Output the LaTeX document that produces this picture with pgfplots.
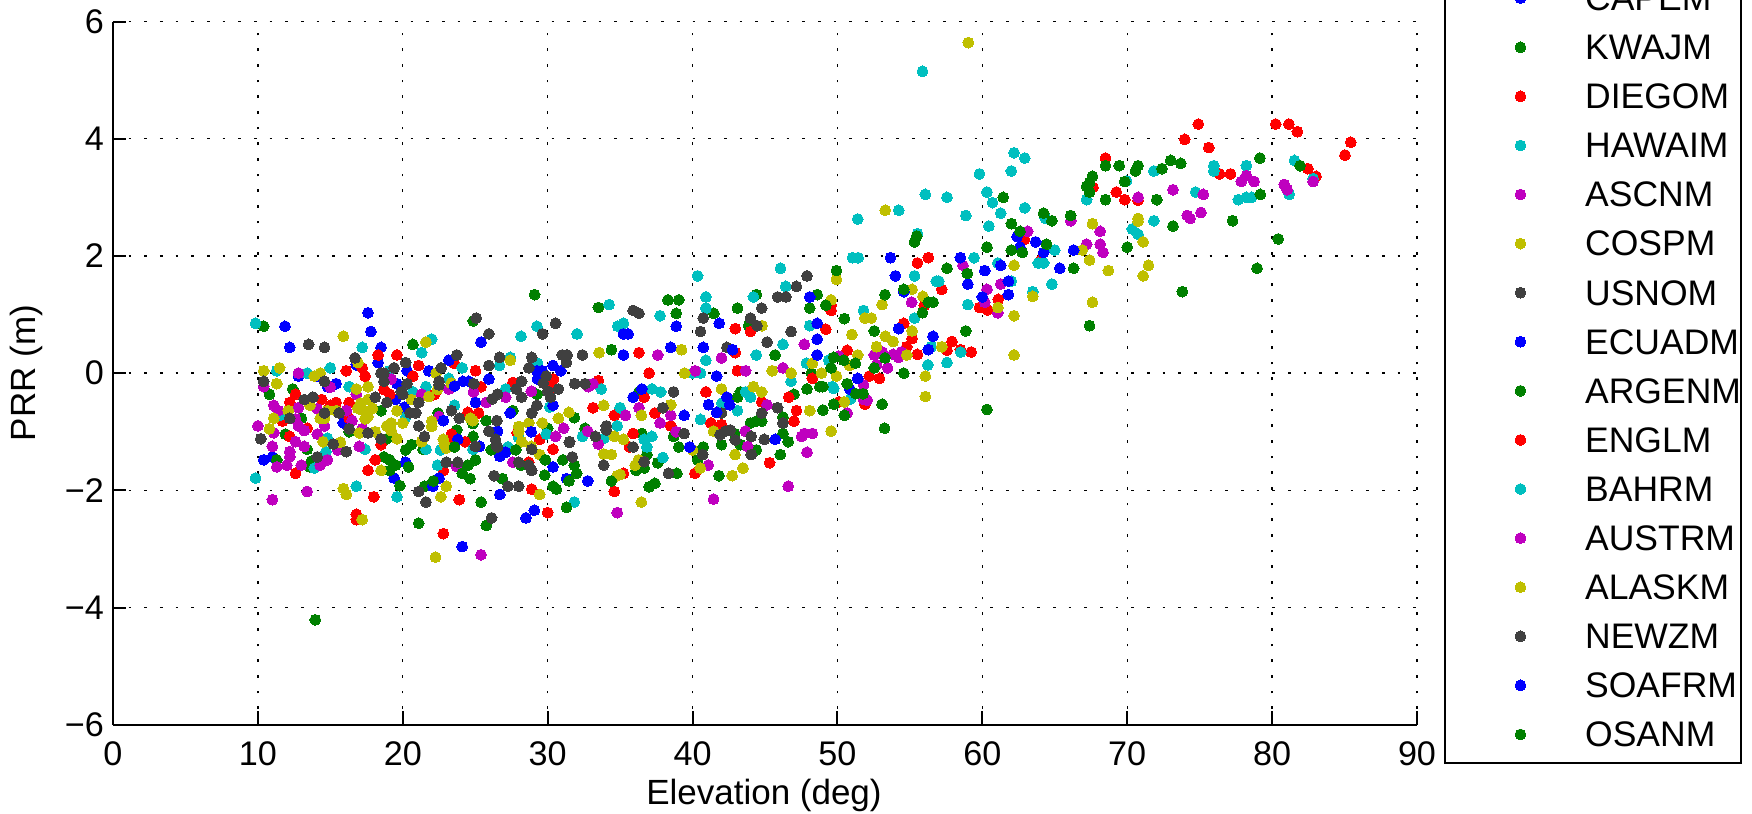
\documentclass[border=0pt]{standalone}
\usepackage{fontspec}
\setmainfont{Liberation Sans}
\usepackage{pgfplots}
\pgfplotsset{compat=1.18}
\definecolor{cB}{RGB}{0,0,255}
\definecolor{cG}{RGB}{0,128,0}
\definecolor{cR}{RGB}{255,0,0}
\definecolor{cC}{RGB}{0,191,191}
\definecolor{cM}{RGB}{191,0,191}
\definecolor{cY}{RGB}{191,191,0}
\definecolor{cK}{RGB}{64,64,64}
\pgfplotsset{
  st/.style={only marks,mark=*,mark size=3.25pt,color=#1,mark options={draw=#1,fill=#1,line width=0pt,solid}},
}
\begin{document}
\begin{tikzpicture}
\clip[use as bounding box] (-67.8pt,-52.98pt) rectangle (983.4pt,434.82pt);
\begin{axis}[
  scale only axis,width=782.4pt,height=421.9pt,
  xmin=0,xmax=90,ymin=-6,ymax=6,
  xtick={0,10,20,30,40,50,60,70,80,90},
  xticklabels={0,10,20,30,40,50,60,70,80,90},
  ytick={-6,-4,-2,0,2,4,6},
  yticklabels={−6,−4,−2,0,2,4,6},
  axis x line*=bottom,axis y line*=left,
  axis line style={black,line width=1.2pt},
  tick align=inside,major tick length=8pt,
  tick style={black,line width=1.2pt},
  xmajorgrids,ymajorgrids,
  grid style={black,line width=0.8pt,dash pattern=on 1.6pt off 7.8pt},
  tick label style={font=\fontsize{20.5}{24}\selectfont},
  xticklabel style={yshift=-6.5pt},
  yticklabel style={xshift=-2pt},
  label style={font=\fontsize{21}{25}\selectfont},
  xlabel={Elevation (deg)},ylabel={PRR (m)},
  xlabel style={at={(axis description cs:0.4992,-0.1)},anchor=center},
  ylabel style={at={(axis description cs:-0.0665,0.5)},anchor=center},
  legend cell align=left,
  legend image code/.code={\path (-44.85pt,0pt) (36pt,0pt);\draw[#1] plot coordinates {(0pt,0pt)};},
  legend style={at={(axis description cs:1.0205,-0.0563)},anchor=south west,
    draw=black,line width=1.2pt,inner xsep=0pt,inner ysep=2.6pt,
    font=\fontsize{21.3}{25}\selectfont,column sep=2.2pt,row sep=0pt,
    nodes={inner sep=0pt,minimum height=29.45pt,text depth=0pt}},
]
\addplot[st=cB] coordinates {(11.87,.80)(17.6,1.03)(17.8,.71)(12.2,.44)(18.5,.44)(18.3,.18)(12.8,-.05)(14.1,-.05)(15.4,-.18)(14.8,-.23)(16.8,.14)(20.3,.04)(21.8,.04)(19.6,-.18)(19.5,-.45)(20.1,-.58)(15.9,-.85)(10.4,-1.48)(11,-1.43)(20.2,-1.52)(19.4,-1.79)};
\addlegendentry{CAPEM}
\addplot[st=cG] coordinates {(10.4,.80)(20.7,.49)(10.8,-.36)(12.4,-.27)(18.5,-.64)(13,-.77)(16.3,-1)(11.9,-1.04)(18.9,-1.12)(11.3,-1.48)(13.4,-1.3)(13.6,-1.6)(13.7,-1.5)(18.7,-1.43)(19.1,-1.48)(19.5,-1.57)(19.1,-1.66)(20.4,-1.6)(19.8,-1.92)(20.2,-1.31)(20.6,-1.22)(21.5,-1.93)(21.1,-2.56)(21.4,-1.3)(13.96,-4.21)(29.1,1.34)(24.86,.89)(33.5,1.12)(34.4,.4)(29.26,-.36)(27.6,-.64)(22.44,-.68)(24.84,-.86)(25.76,-.81)(31.84,-.76)(32.58,-.94)(30,-.94)(23.73,-.97)(24.85,-1.08)};
\addlegendentry{KWAJM}
\addplot[st=cR] coordinates {(18.3,.31)(19.6,.31)(17.2,.09)(17.4,-.05)(16.1,.04)(12.6,-.36)(21.1,.13)(20.7,-.05)(18.7,-.28)(19.1,-.36)(14.4,-.45)(12.2,-.5)(15.4,-.5)(16.3,-.5)(15,-.55)(16.3,-.77)(11.7,-.82)(13.4,-.94)(12.2,-1.08)(18.5,-1.22)(18.1,-1.48)(17.6,-1.66)(12.6,-1.71)(18,-2.11)(16.8,-2.41)(16.8,-2.5)(23.55,.17)(25.02,.04)(27.6,-.16)(30.4,-.1)(33.5,-.13)(25.4,-.23)(30.25,-.26)(22.2,-.36)(21.84,-.4)(33.13,-.59)(24.5,-.67)(25.23,-.68)(34.6,-.72)(23.36,-1.04)(29.45,-1.13)(27.9,-1.02)(23.4,-1.18)(24.3,-1.17)(30.37,-1.3)(22.8,-1.66)(28.7,-1.52)(28.9,-1.98)(34.6,-2.02)(23.9,-2.16)(30,-2.38)(22.8,-2.74)};
\addlegendentry{DIEGOM}
\addplot[st=cC] coordinates {(9.84,.85)(17.2,.44)(21.3,.35)(15,.09)(11.3,.04)(13.4,0)(16.3,-.23)(19.1,.04)(20.7,-.32)(21.6,-.23)(11.5,-.72)(20.2,-.75)(14.8,-1.11)(9.84,-1.79)(14.7,-1.34)(13.9,-1.62)(17.4,-1.3)(16.8,-1.93)(19.6,-2.11)(21.6,-1.3)(22,.58)(24.1,.09)(26.68,.13)(27.42,.27)(28.16,.63)(29.26,.8)(32.03,.67)(34.24,1.17)(34.84,.8)(29.3,.17)(23.18,-.09)(33.7,-.27)(27.1,-.27)(30.14,-.58)(23.57,-.55)(32.4,-1.08)(33.9,-1.11)(29.9,-1.04)(34.8,-.9)(28,-1.1)(22.4,-1.57)(22.6,-1.31)(24.84,-1.3)(27.26,-1.26)(31.84,-2.2)};
\addlegendentry{HAWAIM}
\addplot[st=cM] coordinates {(12.8,0)(15,-.24)(10.4,-.23)(19.2,-.1)(21.3,-.36)(16.8,-.36)(11.1,-.55)(11.4,-.64)(12.8,-.59)(14.1,-.61)(16.1,-.64)(12.6,-.78)(14.6,-.77)(16.5,-.81)(10,-.9)(12.8,-.9)(13.2,-.98)(14.6,-.9)(14.1,-1.04)(11.1,-1.02)(17.2,-.95)(12.6,-1.17)(11,-1.25)(12.2,-1.34)(12.2,-1.43)(13.2,-1.25)(11.3,-1.6)(12,-1.57)(13,-1.57)(14.3,-1.57)(14.8,-1.48)(15.5,-1.31)(17,-1.25)(13.4,-2.02)(11,-2.16)(23.18,-.27)(24.88,-.32)(27.1,-.41)(28.87,-.31)(25.76,-.5)(22.5,-.74)(32.8,-.23)(33.13,-.18)(31.1,-.94)(32.77,-.99)(30.55,-1.08)(33.5,-1.21)(27.6,-1.52)(23.7,-1.59)(34.8,-2.38)(25.4,-3.1)};
\addlegendentry{ASCNM}
\addplot[st=cY] coordinates {(15.9,.63)(21.6,.53)(16.9,.18)(10.4,.04)(11.5,.09)(13.9,-.05)(14.3,0)(11.3,-.18)(16.8,-.27)(17.6,-.23)(21.8,-.4)(20.6,-.45)(13.6,-.55)(12.1,-.64)(15.4,-.64)(14.8,-.64)(17.1,-.51)(17.6,-.45)(17.9,-.6)(17.2,-.63)(16.9,-.6)(17.6,-.74)(17.4,-.78)(19.6,-.64)(11.1,-.77)(14.3,-.77)(14.6,-.77)(10.8,-.95)(20,-.85)(19.2,-.85)(18.9,-.9)(19.2,-.98)(18.1,-1)(17,-1.02)(19.6,-1.12)(14.5,-1.17)(15.7,-1.18)(18.5,-1.66)(15.9,-1.97)(16.1,-2.07)(17.2,-2.5)(21.3,-1.17)(27.42,.22)(33.55,.35)(22.3,0)(23.34,-.17)(22.4,-.28)(33.87,-.55)(24.66,-.77)(24.84,-.81)(28,-.91)(28.7,-.85)(29.63,-.85)(30.74,-.77)(31.47,-.67)(22,-.82)(22,-.91)(28,-1)(34.6,-1.08)(22.8,-1.13)(22.86,-1.2)(23,-1.28)(28.2,-1.17)(28.87,-1.25)(29.45,-1.39)(33.87,-1.38)(34.4,-1.39)(34.8,-1.75)(23,-1.93)(22.63,-2.11)(29.45,-2.07)(22.26,-3.14)};
\addlegendentry{COSPM}
\addplot[st=cK] coordinates {(13.5,.49)(14.6,.44)(16.7,.26)(19.4,.09)(20.2,.18)(18.7,0)(18.5,0)(10.4,-.14)(14.6,-.14)(18.7,-.14)(20.3,-.18)(19.9,-.32)(20,-.36)(18.9,-.5)(18.1,-.41)(21.1,-.5)(13.2,-.45)(13.8,-.41)(14.6,-.68)(15.6,-.68)(20.5,-.68)(20.9,-.68)(12.2,-.77)(16.3,-.95)(17.6,-1.02)(21.1,-.9)(10.2,-1.12)(21.5,-1.08)(18.5,-1.12)(15.2,-1.21)(14.1,-1.43)(16.1,-1.34)(21.1,-2.02)(21.6,-2.2)};
\addlegendentry{USNOM}
\addplot[st=cB] coordinates {(25.4,.53)(23.18,.22)(29.26,.04)(29.63,.04)(30.37,.13)(30.9,.04)(29.3,-.1)(23.57,-.22)(24.15,-.14)(24.56,-.14)(25.94,-.1)(25.02,-.5)(30.37,-.55)(27.42,-.68)(22.8,-.81)(28.87,-1)(26.54,-.99)(23.8,-1.13)(25.3,-1.25)(26.7,-1.42)(27.1,-1.35)(30.37,-1.6)(31.3,-1.8)(32.77,-1.84)(26.7,-2.07)(22.5,-1.79)(22.07,-1.93)(29.08,-2.34)(28.5,-2.47)(24.1,-2.96)};
\addlegendentry{ECUADM}
\addplot[st=cG] coordinates {(26.1,-1.31)(27.8,-1.31)(23.57,-1.26)(29.84,-1.48)(31.05,-1.48)(31.84,-1.57)(32,-1.71)(28.16,-1.57)(25.02,-1.48)(24.5,-1.57)(24.1,-1.71)(24.65,-1.8)(29.8,-1.74)(26.87,-1.8)(30.37,-1.93)(30.6,-1.98)(31.47,-1.84)(34.4,-1.84)(22.1,-1.84)(25.4,-2.2)(31.3,-2.29)(25.76,-2.6)(38.3,1.25)(39.05,1.25)(38.87,1.02)(41.47,1.02)(43.87,.81)(43.1,1.11)(44.4,1.34)(48.6,1.34)(48.09,1.11)(45.7,.31)(48.2,0)(47.9,-.27)(48.78,-.23)(47,-.36)(46.24,-.75)(43.3,-.32)(43.1,-.41)(36.3,-.32)(36.5,-1.03)(38.7,-1.08)(36.85,-1.39)(39.05,-1.26)(40.74,-1.26)(40.35,-1.48)(37.6,-1.53)(36.1,-1.66)(36.66,-1.62)(38.92,-1.71)(41.82,-1.75)(42,-1.22)(42.9,-1.03)(43.3,-1.22)(44.4,-1.31)(46.6,-1.17)(46.24,-1.03)(46.06,-1.39)(37,-1.94)(37.4,-1.88)(44.4,-.82)(44,-.85)(44.77,-.82)(35.65,-1.26)};
\addlegendentry{ARGENM}
\addplot[st=cR] coordinates {(36.3,.35)(37,0)(42.95,.76)(44,.71)(42.95,.35)(40.92,-.32)(43.1,.04)(46.64,-.41)(44.77,-.49)(48.27,-.09)(47.17,-.64)(37.4,-.68)(36.66,-.41)(38.5,-.9)(35.9,-1.03)(35.65,-1.26)(35.23,-1.71)(40.16,-1.71)(45.32,-1.53)(47,-.82)(41.27,-.85)(42,-.88)(49.56,1.16)(49.56,1.07)(49.2,.75)(50.67,.39)(50.1,-.49)(55.52,1.88)(56.27,1.97)(57.2,1.43)(61.1,1.26)(59.8,1.12)(60.35,1.08)(54.58,.85)(55.15,.59)(57.9,.54)(54.78,.45)(58.48,.4)(57.56,.39)(59.23,.36)(55.52,.32)(52.2,-.05)(52.9,-.09)(51.9,-.53)(74.91,4.25)(80.25,4.25)(81.16,4.25)(81.74,4.12)(73.97,3.99)(75.63,3.85)(85.43,3.94)(85.03,3.72)(68.5,3.67)(67.64,3.17)(69.25,3.09)(69.83,2.96)(70.75,2.95)(76.38,3.4)(77.13,3.4)(82.47,3.49)(83.03,3.36)(62.9,2.28)(64.05,1.93)(56,1.16)};
\addlegendentry{ENGLM}
\addplot[st=cC] coordinates {(35.23,.85)(37.76,.98)(40.92,1.3)(40.92,1.11)(40.35,1.66)(46.07,1.79)(44.2,1.3)(46.43,1.48)(48.09,.81)(44.4,.31)(46.24,.49)(40,0)(40.55,0)(40.92,.22)(47.86,.17)(46.8,-.14)(44,-.41)(43.66,-.32)(42.03,-.51)(43.1,-.64)(40.55,-.79)(37.8,-.32)(37.2,-.27)(35,-.59)(37.2,-1.08)(36.66,-1.13)(36.85,-1.26)(37.95,-1.44)(49.4,.22)(49.63,-.23)(49.75,-.26)(50.9,-.44)(51.04,1.97)(51.4,2.63)(51.43,1.97)(55.87,5.15)(62.19,3.76)(62.93,3.67)(71.84,3.45)(62,3.45)(59.8,3.4)(67.2,2.96)(69.95,3.28)(74.72,3.09)(75.98,3.54)(75.98,3.45)(78.22,3.54)(81.54,3.63)(82.83,3.32)(81.18,3.05)(78.59,3)(78.22,3)(77.67,2.96)(71.84,2.6)(70.35,2.46)(70.75,2.37)(64.35,2.64)(65,2.1)(63.86,1.88)(64.23,1.88)(61.07,1.88)(60.45,2.51)(61.27,2.73)(62.93,2.82)(60.7,2.91)(60.32,3.09)(58.86,2.69)(57.56,3)(56.07,3.05)(54.23,2.78)(55.52,2.38)(59.43,1.97)(55.32,1.66)(56.82,1.57)(57,1.57)(62,1.57)(64.8,1.52)(63.48,1.39)(59,1.17)(55.32,.94)(51.8,1.07)(56.47,.45)(58.5,.36)(56.24,.14)(57.56,.18)};
\addlegendentry{BAHRM}
\addplot[st=cM] coordinates {(37.6,.31)(40.18,.04)(42,.26)(43.66,.04)(46.24,.09)(47.72,.49)(45.14,-.54)(38.5,-.72)(36.3,-.59)(35.37,-.72)(37.76,-.85)(38.87,-1)(41.08,-1.57)(43.64,-.99)(43.8,-1.25)(47.53,-1.08)(47.72,-1.03)(48.27,-1.03)(47.9,-1.35)(46.6,-1.93)(41.45,-2.15)(50.67,-.68)(50.1,.29)(58.66,1.84)(60.32,1.43)(61.27,1.52)(55.12,1.21)(60.17,1.21)(61.07,1.03)(53.84,.32)(53.1,.36)(52.54,.31)(54.4,.36)(54.2,.27)(52.7,.14)(53.46,.09)(51.8,-.2)(51.8,-.45)(52.05,-.46)(63.13,2.42)(66.1,2.6)(68.13,2.42)(68.13,2.2)(68.33,2.06)(67.2,2.2)(70.75,3)(73.16,3.13)(75.25,3.05)(78.22,3.37)(77.87,3.27)(78.76,3.27)(82.83,3.27)(80.84,3.22)(81.04,3.13)(75.09,2.74)(74.14,2.69)(74.34,2.64)};
\addlegendentry{AUSTRM}
\addplot[st=cY] coordinates {(39.24,.4)(39.45,0)(45.5,.04)(46.8,0)(48.27,.17)(44.8,.81)(42,-.27)(44.2,-.23)(44.77,-.32)(48.09,-.64)(38.5,-.54)(36.47,-.72)(35.23,-1.13)(36.27,-1.48)(36.04,-1.57)(35,-1.73)(40,-1.31)(40.53,-1.62)(42.74,-1.75)(43.48,-1.62)(42.93,-1.39)(41.45,-.99)(36.47,-2.2)(49.93,1.6)(49.56,1.25)(49.93,-.05)(48.9,0)(50.48,-.49)(51,.66)(50.85,.13)(51.4,.31)(49.56,-.99)(59.03,5.64)(53.3,2.78)(62.19,1.84)(66.9,2.1)(67.6,2.55)(67.4,1.93)(68.7,1.75)(70.75,2.64)(70.75,2.59)(71.1,2.24)(71.47,1.84)(71.1,1.66)(67.6,1.21)(55.15,1.43)(55.9,1.31)(53.08,1.17)(63.48,1.31)(61.07,1.12)(62.19,.98)(52.34,.94)(55.15,.72)(53.3,.63)(53.84,.54)(52.7,.45)(57.2,.45)(62.19,.31)(54.78,.31)(56.07,-.05)(56.07,-.4)(51.9,.94)};
\addlegendentry{ALASKM}
\addplot[st=cK] coordinates {(25.07,.94)(25.94,.67)(29.65,.67)(30.55,.85)(23.73,.31)(22.65,.09)(25.94,.13)(26.68,.27)(28.9,.27)(28.7,.09)(31,.31)(31.34,.31)(31.3,.18)(32.4,.31)(29.9,-.05)(28.2,-.14)(29.7,-.17)(27.83,-.27)(31.87,-.18)(32.58,-.18)(30.74,-.27)(30,-.31)(30.2,-.41)(22.5,-.14)(22.5,-.2)(24.9,-.18)(26.54,-.36)(26.18,-.44)(28.2,-.41)(29.26,-.55)(23.36,-.64)(28.9,-.68)(23.9,-.77)(26.5,-.81)(34.05,-.9)(34.05,-.97)(33.3,-1.08)(25.94,-.99)(31.52,-1.17)(26.4,-1.13)(26.45,-1.23)(25,-1.25)(26.54,-1.26)(28.9,-1.3)(31.7,-1.43)(33.87,-1.57)(28,-1.52)(28.7,-1.57)(28.9,-1.66)(23,-1.52)(23.8,-1.52)(26.3,-1.75)(27.26,-1.93)(28,-1.93)(26.13,-2.47)(31.5,-1.18)(35.9,1.07)(36.3,1.02)(40.74,.94)(40.55,.71)(42.37,.44)(44,.94)(44.45,.81)(44.77,1.11)(45.87,1.3)(46.45,1.3)(47.17,1.48)(45.14,.53)(46.8,.71)(47.9,1.66)(38.69,-.32)(37.95,-.59)(45.87,-.59)(42,-.68)(44.77,-.68)(39.42,-1.03)(35.9,-1.26)(40.7,-1.39)(36.66,-1.51)(38.34,-1.71)(41.9,-1.05)(42.26,-.99)(42.6,-.97)(42.95,-1.14)(44.05,-1.08)(44.05,-1.39)(44.95,-1.13)(46.24,-.85)};
\addlegendentry{NEWZM}
\addplot[st=cB] coordinates {(38.87,.8)(35.23,.67)(35.55,.67)(35.23,.31)(38.5,.44)(41.84,.85)(40.74,.44)(42.76,.4)(41.66,-.05)(48.09,1.3)(48.6,.85)(48.6,.58)(48.6,.31)(42.37,-.41)(42.56,-.54)(41.1,-.54)(41.66,-.67)(39.42,-.72)(36.5,-.27)(35.9,-.41)(39.8,-1.26)(45.7,-1.13)(50.85,-.27)(53.66,1.97)(58.48,1.97)(60.17,1.75)(54,1.66)(59,1.52)(61.8,1.57)(61.27,1.84)(54.58,1.39)(61.8,1.34)(60,1.3)(54.23,.76)(56.6,.63)(56.27,.4)(62.4,2.33)(62.6,2.15)(63.68,2.24)(64.23,2.06)(66.3,2.1)(65.35,1.79)(51.4,-.09)};
\addlegendentry{SOAFRM}
\addplot[st=cG] coordinates {(49.93,1.75)(49.2,1.16)(50.48,.93)(49.56,.09)(49.75,.27)(50.44,.22)(51.24,.17)(50.67,-.18)(51.27,-.35)(49.75,-.53)(50.48,-.72)(49,-.63)(49,-.23)(55.47,2.34)(55.32,2.24)(57.56,1.79)(58.96,1.7)(60.32,2.15)(62,2.55)(61.44,3)(62,2.1)(62.76,2.06)(62.6,2.42)(64.23,2.73)(64.8,2.6)(64.43,2.2)(66.1,2.69)(66.3,1.79)(67.6,3.36)(67.4,3.25)(67.2,3.19)(67.4,3.09)(68.5,3.54)(68.5,2.96)(69.45,3.54)(70.75,3.54)(70.57,3.45)(69.83,3.27)(72.04,2.96)(72.4,3.49)(73,3.63)(73.7,3.58)(79.16,3.67)(79.19,3.05)(81.93,3.54)(77.27,2.6)(73.16,2.51)(70,2.15)(78.96,1.79)(80.42,2.29)(73.8,1.39)(67.4,.81)(54.58,1.43)(53.28,1.34)(56.27,1.21)(56.6,1.21)(55.87,1.03)(52.54,.72)(58.86,.72)(53.28,.26)(52.54,.09)(54.58,0)(53.08,-.53)(60.32,-.62)(53.25,-.94)(51.77,-.35)};
\addlegendentry{OSANM}
\end{axis}
\end{tikzpicture}
\end{document}
